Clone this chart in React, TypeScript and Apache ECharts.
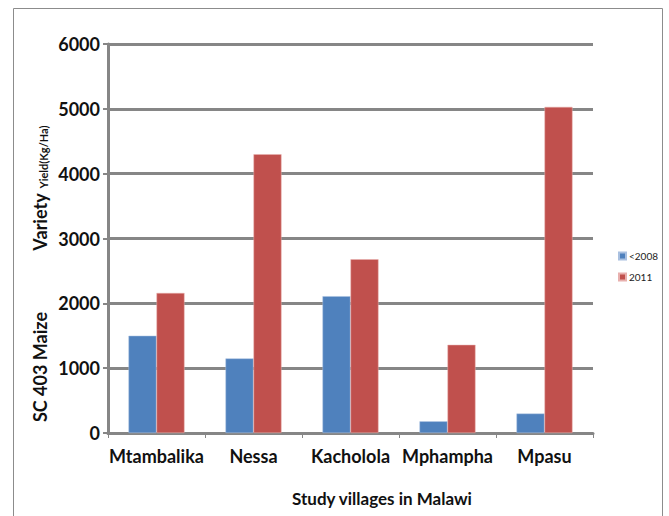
import React, { useEffect, useRef } from "react";
import * as echarts from "echarts";

const categories = ["Mtambalika", "Nessa", "Kacholola", "Mphampha", "Mpasu"];
const before2008 = [1500, 1150, 2110, 180, 300];
const year2011 = [2160, 4300, 2680, 1360, 5030];
const seriesNames = ["<2008", "2011"];
const yTicks = { min: 0, max: 6000, interval: 1000 };

const FONT = "Lato, 'Open Sans', sans-serif";
const GRAY = "#868686";

export default function App() {
  const ref = useRef<HTMLDivElement>(null);
  useEffect(() => {
    if (!ref.current) return;
    const chart = echarts.init(ref.current, undefined, { renderer: "svg" });
    chart.setOption({
      animation: false,
      backgroundColor: "#ffffff",
      grid: { left: 108, right: 76, top: 44, bottom: 83 },
      legend: {
        orient: "vertical",
        left: 613,
        top: 246,
        itemWidth: 7,
        itemHeight: 7,
        itemGap: 11,
        icon: "rect",
        data: seriesNames,
        textStyle: { fontFamily: FONT, fontSize: 10, color: "#222", padding: [0, 0, 0, -2] },
      },
      xAxis: {
        type: "category",
        data: categories,
        axisLine: { show: true, lineStyle: { color: GRAY, width: 3 } },
        axisTick: { show: true, length: 5, lineStyle: { color: GRAY, width: 1 } },
        axisLabel: {
          interval: 0,
          margin: 14,
          fontFamily: FONT,
          fontWeight: "bold",
          fontSize: 18,
          color: "#111",
        },
      },
      yAxis: {
        type: "value",
        min: yTicks.min,
        max: yTicks.max,
        interval: yTicks.interval,
        axisLine: { show: true, lineStyle: { color: GRAY, width: 3 } },
        axisTick: { show: true, length: 5, lineStyle: { color: GRAY, width: 2 } },
        splitLine: { show: true, lineStyle: { color: GRAY, width: 3 } },
        axisLabel: {
          margin: 8,
          formatter: (v: number) => String(v),
          fontFamily: FONT,
          fontWeight: "bold",
          fontSize: 18,
          color: "#111",
        },
      },
      series: [
        {
          name: seriesNames[0],
          type: "bar",
          data: before2008,
          barWidth: 28,
          barGap: "0%",
          itemStyle: { color: "#4F81BD", borderColor: "#a9c0e0", borderWidth: 0.5 },
        },
        {
          name: seriesNames[1],
          type: "bar",
          data: year2011,
          barWidth: 28,
          barGap: "0%",
          itemStyle: { color: "#C0504D", borderColor: "#e8b0ae", borderWidth: 0.5 },
        },
      ],
      graphic: [
        {
          type: "rect",
          shape: { x: 13.5, y: 8.5, width: 649, height: 540 },
          style: { fill: "none", stroke: "#8c8c8c", lineWidth: 1 },
          silent: true,
        },
        {
          type: "text",
          x: 40,
          y: 367,
          rotation: Math.PI / 2,
          style: {
            text: "SC 403 Maize",
            fontFamily: FONT,
            fontWeight: "bold",
            fontSize: 18,
            fill: "#111",
            textAlign: "center",
            textVerticalAlign: "middle",
          },
        },
        {
          type: "text",
          x: 40,
          y: 222,
          rotation: Math.PI / 2,
          style: {
            text: "Variety",
            fontFamily: FONT,
            fontWeight: "bold",
            fontSize: 18,
            fill: "#111",
            textAlign: "center",
            textVerticalAlign: "middle",
          },
        },
        {
          type: "text",
          x: 43,
          y: 157,
          rotation: Math.PI / 2,
          style: {
            text: "Yield(Kg/Ha)",
            fontFamily: FONT,
            fontWeight: "bold",
            fontSize: 11,
            fill: "#111",
            textAlign: "center",
            textVerticalAlign: "middle",
          },
        },
        {
          type: "text",
          x: 382,
          y: 498,
          style: {
            text: "Study villages in Malawi",
            fontFamily: FONT,
            fontWeight: "bold",
            fontSize: 17,
            fill: "#111",
            textAlign: "center",
            textVerticalAlign: "middle",
          },
        },
      ],
    });
    return () => chart.dispose();
  }, []);
  return (
    <div
      ref={ref}
      style={{ position: "absolute", left: 0, top: 0, width: 669, height: 516 }}
    />
  );
}
